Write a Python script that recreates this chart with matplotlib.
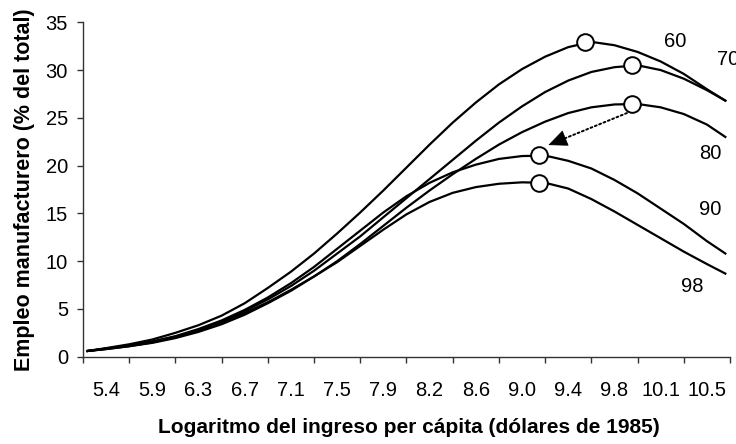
import numpy as np
import matplotlib.pyplot as plt

plt.rcParams['font.family'] = ['Liberation Sans', 'DejaVu Sans']

# positions along the category axis (0 = left axis edge, 14 = right edge)
pos = [0.1, 0.5, 1, 1.5, 2, 2.5, 3, 3.5, 4, 4.5, 5, 5.5, 6, 6.5, 7, 7.5,
       8, 8.5, 9, 9.5, 10, 10.5, 11, 11.5, 12, 12.5, 13, 13.5, 13.9]

y60 = [0.6, 0.9, 1.3, 1.8, 2.5, 3.3, 4.3, 5.6, 7.2, 8.9, 10.8, 12.9, 15.1, 17.4, 19.8,
       22.2, 24.5, 26.6, 28.5, 30.1, 31.4, 32.4, 32.95, 32.6, 31.9, 30.9, 29.6, 28.0, 26.8]
y70 = [0.6, 0.85, 1.15, 1.55, 2.1, 2.8, 3.7, 4.8, 6.0, 7.4, 9.0, 10.8, 12.6, 14.6, 16.6,
       18.6, 20.6, 22.6, 24.5, 26.2, 27.7, 28.9, 29.8, 30.3, 30.5, 30.0, 29.1, 27.9, 26.8]
y80 = [0.6, 0.8, 1.1, 1.45, 1.95, 2.6, 3.4, 4.4, 5.6, 6.9, 8.4, 10.0, 11.8, 13.7, 15.6,
       17.4, 19.1, 20.7, 22.2, 23.5, 24.6, 25.5, 26.1, 26.4, 26.45, 26.1, 25.4, 24.3, 23.0]
y90 = [0.6, 0.85, 1.2, 1.6, 2.15, 2.9, 3.8, 4.9, 6.2, 7.7, 9.4, 11.3, 13.2, 15.1, 16.8,
       18.2, 19.3, 20.1, 20.7, 21.0, 21.05, 20.5, 19.7, 18.5, 17.1, 15.5, 13.9, 12.1, 10.8]
y98 = [0.6, 0.8, 1.1, 1.5, 2.05, 2.75, 3.6, 4.6, 5.7, 7.0, 8.4, 9.9, 11.6, 13.3, 14.9,
       16.2, 17.15, 17.75, 18.1, 18.25, 18.2, 17.6, 16.5, 15.2, 13.8, 12.4, 11.0, 9.7, 8.7]

series = [y60, y70, y80, y90, y98]
names = ['60', '70', '80', '90', '98']

# peak markers
peak_pos = [10.87, 11.88, 11.88, 9.87, 9.87]
peak_val = [32.9, 30.5, 26.4, 21.1, 18.2]

# curve labels
lab_pos = [12.81, 13.72, 13.57, 13.57, 13.18]
lab_val = [33.0, 31.1, 21.3, 15.4, 7.3]

xlabels = ['5.4', '5.9', '6.3', '6.7', '7.1', '7.5', '7.9', '8.2', '8.6', '9.0',
           '9.4', '9.8', '10.1', '10.5']

fig = plt.figure(figsize=(7.36, 4.44), dpi=100)
ax = fig.add_axes([0.1128, 0.1966, 0.879, 0.7532])

for ys in series:
    ax.plot(pos, ys, color='black', lw=1.6, solid_joinstyle='round')

ax.plot(peak_pos, peak_val, 'o', ms=12, mfc='white', mec='black', mew=1.4, zorder=5, clip_on=False)

# dotted arrow from the 80 peak towards the 90 peak
tail = (11.77, 25.5)
tip = (10.07, 22.15)
ax.annotate('', xy=tip, xytext=tail,
            arrowprops=dict(arrowstyle='-', linestyle=(0, (1, 1.4)), lw=1.4,
                            color='black', shrinkA=0, shrinkB=8), zorder=4)
ax.annotate('', xy=tip, xytext=(10.4, 22.8),
            arrowprops=dict(arrowstyle='-|>,head_length=1.25,head_width=0.55', lw=0.5,
                            color='black', shrinkA=0, shrinkB=0, mutation_scale=10), zorder=4)

for n, px, py in zip(names, lab_pos, lab_val):
    ha = 'left' if n == '70' else 'center'
    ax.text(px, py, n, fontsize=14.5, ha=ha, va='center', clip_on=False)

ax.set_xlim(0, 14)
ax.set_ylim(0, 35)
ax.set_yticks(np.arange(0, 36, 5))
ax.set_xticks(np.arange(0, 15))
ax.set_xticklabels([])
ax.set_xticks(np.arange(len(xlabels)) + 0.5, minor=True)
ax.set_xticklabels(xlabels, minor=True)
ax.tick_params(axis='x', which='minor', length=0, pad=17.5, labelsize=14.5)
ax.tick_params(axis='x', which='major', length=4.5, direction='out', width=1, color='#333333')
ax.tick_params(axis='y', length=4.3, direction='out', labelsize=14.5, pad=6.5, width=1, color='#333333')

for s in ['top', 'right']:
    ax.spines[s].set_visible(False)
for s in ['left', 'bottom']:
    ax.spines[s].set_linewidth(1)
    ax.spines[s].set_color('#333333')

ax.set_ylabel('Empleo manufacturero (% del total)', fontsize=15.5, fontweight='bold', va='center')
ax.yaxis.set_label_coords(-0.0912, 0.5)
ax.set_xlabel('Logaritmo del ingreso per cápita (dólares de 1985)', fontsize=15,
              fontweight='bold', va='top')
ax.xaxis.set_label_coords(0.504, -0.184)

fig.savefig('out.png', dpi=100)
